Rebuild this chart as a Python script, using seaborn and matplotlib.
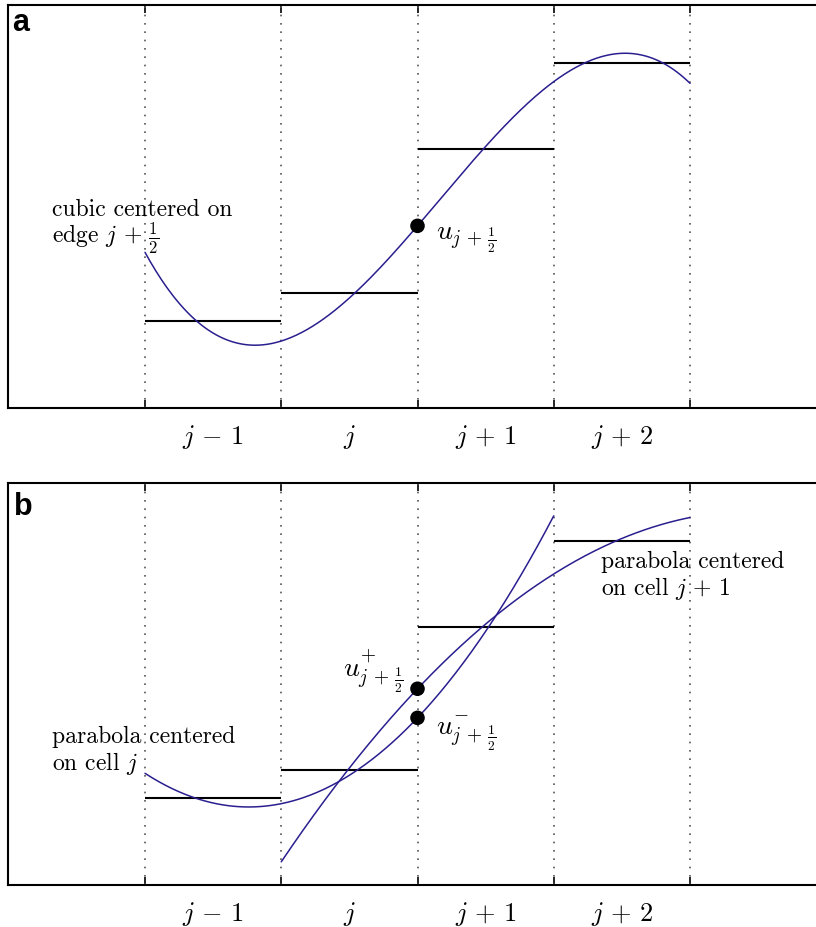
import numpy as np
import pandas as pd
import matplotlib
matplotlib.use("Agg")
import matplotlib.pyplot as plt
import seaborn as sns

# ---- data ----
cell_edges = [0, 1, 2, 3, 4]
cell_avg = [0.216, 0.285, 0.643, 0.856]          # cell averages j-1, j, j+1, j+2
tick_labels = [r"$j\,-\,1$", r"$j$", r"$j\,+\,1$", r"$j\,+\,2$"]
tick_pos = [0.5, 1.5, 2.5, 3.5]

sns.set_theme(style="white")
plt.rcParams["font.family"] = ["cmr10", "DejaVu Serif"]
plt.rcParams["mathtext.fontset"] = "cm"
plt.rcParams["axes.unicode_minus"] = False
plt.rcParams["text.color"] = "black"
plt.rcParams["xtick.color"] = "black"
plt.rcParams["xtick.labelcolor"] = "black"

CURVE = "#2a1f8f"


def recon(cells, x0):
    """Polynomial whose averages over consecutive unit cells starting at x0 equal `cells`."""
    n = len(cells)
    A = np.zeros((n, n))
    for k in range(n):
        a, b = x0 + k, x0 + k + 1
        for p in range(n):
            A[k, p] = (b ** (p + 1) - a ** (p + 1)) / (p + 1)
    c = np.linalg.solve(A, np.array(cells))
    return lambda x: sum(c[p] * x ** p for p in range(n))


W, H = 816, 927
fig = plt.figure(figsize=(W / 100, H / 100), dpi=100)


def make_ax(top_px, bot_px):
    ax = fig.add_axes([8 / W, 1 - bot_px / H, (W - 8) / W, (bot_px - top_px) / H])
    return ax


XL = (8 - 145) / 136.25
XR = (816 - 145) / 136.25


def style(ax):
    ax.set_xlim(XL, XR)
    ax.set_ylim(0, 1)
    for s in ["left", "top", "bottom"]:
        ax.spines[s].set_visible(True)
        ax.spines[s].set_color("black")
        ax.spines[s].set_linewidth(1.5)
    ax.spines["right"].set_visible(False)
    for e in cell_edges:
        ax.axvline(e, color="#555555", lw=1.2, linestyle=(0, (1, 4.0)), zorder=1)
    ax.set_xticks(cell_edges)
    ax.set_xticklabels([])
    ax.tick_params(axis="x", which="major", direction="in", length=6, width=1.2,
                   top=True, bottom=True, color="black")
    ax.set_xticks(tick_pos, minor=True)
    ax.set_xticklabels(tick_labels, minor=True, fontsize=19)
    ax.tick_params(axis="x", which="minor", length=0, pad=11)
    ax.set_yticks([])
    ax.set_xlabel("")
    ax.set_ylabel("")
    for k in range(4):
        ax.hlines(cell_avg[k], cell_edges[k], cell_edges[k + 1], color="black", lw=1.5, zorder=3)


def to_a(px, py):
    return (px - 145) / 136.25, (408 - py) / 403


def to_b(px, py):
    return (px - 145) / 136.25, (885 - py) / 402


FS = 17
US = 20

# ---- panel a ----
axa = make_ax(5, 408)
style(axa)
cub = recon(cell_avg, 0)
xs = np.linspace(0, 4, 300)
sns.lineplot(x=xs, y=cub(xs), ax=axa, color=CURVE, lw=1.1, zorder=4)
sns.scatterplot(x=[2], y=[cub(2)], ax=axa, color="black", s=110, zorder=5, edgecolor="none")
axa.text(*to_a(52, 216), "cubic centered on", fontsize=FS, va="baseline", ha="left")
axa.text(*to_a(52, 244), r"edge $j\,+\,\frac{1}{2}$", fontsize=FS, va="baseline", ha="left")
axa.text(*to_a(436, 240), r"$u_{j\,+\,\frac{1}{2}}$", fontsize=US, va="baseline", ha="left")
axa.text(*to_a(12, 31), "a", fontsize=22, fontweight="bold", family="Liberation Sans",
         va="baseline", ha="left", color="black")

# ---- panel b ----
axb = make_ax(483, 885)
style(axb)
parL = recon(cell_avg[0:3], 0)
parR = recon(cell_avg[1:4], 1)
xl = np.linspace(0, 3, 300)
xr = np.linspace(1, 4, 300)
sns.lineplot(x=xl, y=parL(xl), ax=axb, color=CURVE, lw=1.1, zorder=4)
sns.lineplot(x=xr, y=parR(xr), ax=axb, color=CURVE, lw=1.1, zorder=4)
sns.scatterplot(x=[2, 2], y=[parR(2), parL(2)], ax=axb, color="black", s=110, zorder=5,
                edgecolor="none")
axb.text(*to_b(52, 743), "parabola centered", fontsize=FS, va="baseline", ha="left")
axb.text(*to_b(52, 770), r"on cell $j$", fontsize=FS, va="baseline", ha="left")
axb.text(*to_b(601, 568), "parabola centered", fontsize=FS, va="baseline", ha="left")
axb.text(*to_b(601, 595), r"on cell $j\,+\,1$", fontsize=FS, va="baseline", ha="left")
axb.text(*to_b(343, 678), r"$u^{+}_{j\,+\,\frac{1}{2}}$", fontsize=US, va="baseline", ha="left")
axb.text(*to_b(436, 736), r"$u^{-}_{j\,+\,\frac{1}{2}}$", fontsize=US, va="baseline", ha="left")
axb.text(*to_b(14, 515), "b", fontsize=22, fontweight="bold", family="Liberation Sans",
         va="baseline", ha="left", color="black")

fig.savefig("out.png", dpi=100)
